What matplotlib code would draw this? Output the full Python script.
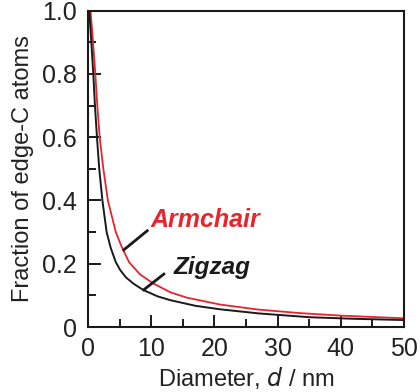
import matplotlib
matplotlib.use("Agg")
import matplotlib.pyplot as plt
from matplotlib.ticker import MultipleLocator, FixedLocator

plt.rcParams['font.family'] = ['Liberation Sans', 'DejaVu Sans']

# Edge-atom fraction vs. dot diameter
zigzag_d = [0.2, 0.53, 0.84, 1.1, 1.42, 1.78, 2.28, 2.95, 3.6, 4.4, 5.1, 6.0,
            7.2, 8.75, 11, 13, 17, 20.9, 27, 35, 42, 50]
zigzag_f = [1.0, 0.90, 0.80, 0.70, 0.60, 0.50, 0.40, 0.30, 0.25, 0.205, 0.18,
            0.157, 0.137, 0.117, 0.097, 0.085, 0.067, 0.056, 0.043, 0.031,
            0.026, 0.022]

armchair_d = [0.4, 0.8, 1.16, 1.47, 1.85, 2.43, 3.15, 4.4, 5.3, 6.5, 8.2, 10.3,
              13, 15.6, 20.9, 27, 33.5, 40, 50]
armchair_f = [1.0, 0.90, 0.80, 0.70, 0.60, 0.50, 0.40, 0.30, 0.255, 0.205,
              0.167, 0.138, 0.110, 0.093, 0.071, 0.055, 0.044, 0.036, 0.0275]

x_ticks = [0, 10, 20, 30, 40, 50]
y_ticks = [0, 0.2, 0.4, 0.6, 0.8, 1.0]
y_tick_labels = ["0", "0.2", "0.4", "0.6", "0.8", "1.0"]

RED = "#e8242c"
INK = "#1a1a1a"

fig = plt.figure(figsize=(4.2, 3.92), dpi=100)
ax = fig.add_axes([0.2095, 0.1658, 0.7524, 0.8069])

ax.plot(armchair_d, armchair_f, color=RED, lw=1.3, solid_joinstyle="round")
ax.plot(zigzag_d, zigzag_f, color=INK, lw=1.4, solid_joinstyle="round")

ax.set_xlim(0, 50)
ax.set_ylim(0, 1.0)
ax.xaxis.set_major_locator(FixedLocator(x_ticks))
ax.xaxis.set_minor_locator(MultipleLocator(5))
ax.yaxis.set_major_locator(FixedLocator(y_ticks))
ax.yaxis.set_minor_locator(MultipleLocator(0.1))
ax.set_yticklabels(y_tick_labels)

ax.tick_params(which="both", direction="in", color=INK, width=1.4,
               labelsize=18, labelcolor="#222222", top=False, right=False)
ax.tick_params(which="major", length=9)
ax.tick_params(which="minor", length=5.5)
ax.tick_params(axis="x", pad=7)
ax.tick_params(axis="y", pad=8)
for s in ax.spines.values():
    s.set_linewidth(1.5)
    s.set_color(INK)

ax.set_xlabel("Diameter, $\\it{d}$ / nm", fontsize=17, color="#222222", labelpad=3)
ax.set_ylabel("Fraction of edge-C atoms", fontsize=17, color="#222222", labelpad=6)

# Curve labels with leader lines
ax.plot([5.49, 9.54], [0.241, 0.307], color=INK, lw=2.0, solid_capstyle="butt")
ax.plot([8.65, 12.18], [0.115, 0.170], color=INK, lw=2.0, solid_capstyle="butt")
ax.text(9.9, 0.338, "Armchair", color=RED, fontsize=18, fontweight="bold",
        fontstyle="italic", va="center", ha="left")
ax.text(13.5, 0.187, "Zigzag", color=INK, fontsize=17.5, fontweight="bold",
        fontstyle="italic", va="center", ha="left")

fig.savefig("out.png", dpi=100)
